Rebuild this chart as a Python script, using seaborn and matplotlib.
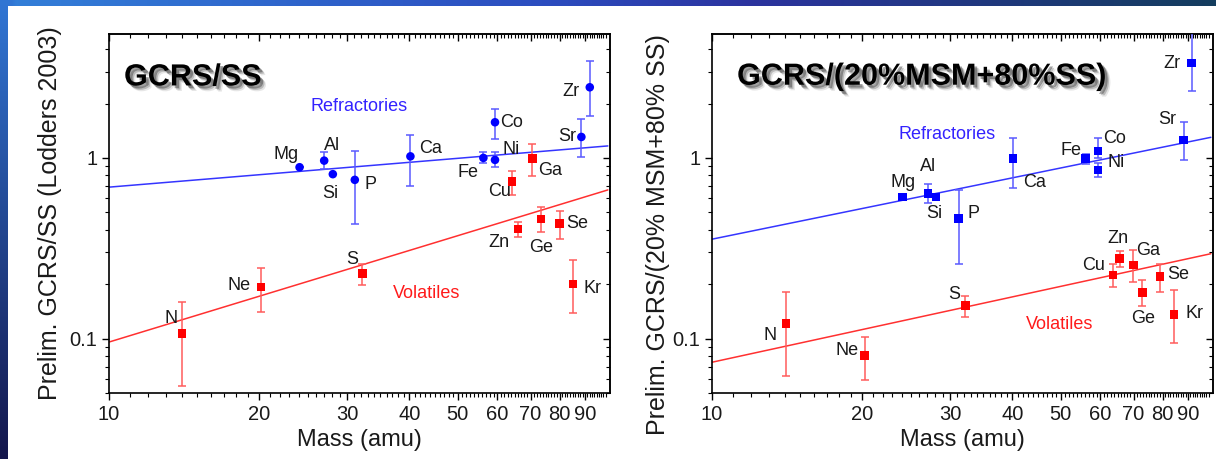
import numpy as np
import matplotlib
matplotlib.use("Agg")
import matplotlib.pyplot as plt
import matplotlib.patheffects as pe
from matplotlib.patches import Rectangle
from matplotlib.ticker import FixedLocator, FixedFormatter, NullFormatter
import seaborn as sns

# ---------------- data: GCRS / SS (Lodders 2003) ----------------
ss_refr_el = ["Mg", "Al", "Si", "P", "Ca", "Fe", "Ni", "Co", "Sr", "Zr"]
ss_refr_mass = [24.1, 27.0, 28.1, 31.1, 40.2, 56.3, 59.4, 59.4, 88.5, 92.0]
ss_refr_val = [0.888, 0.966, 0.813, 0.756, 1.02, 1.00, 0.975, 1.575, 1.306, 2.46]
ss_refr_lo = [0.888, 0.866, 0.813, 0.430, 0.703, 0.935, 0.895, 1.27, 1.017, 1.71]
ss_refr_hi = [0.888, 1.077, 0.813, 1.093, 1.34, 1.075, 1.075, 1.87, 1.65, 3.45]

ss_vol_el = ["N", "Ne", "S", "Cu", "Zn", "Ga", "Ge", "Se", "Kr"]
ss_vol_mass = [14.0, 20.15, 32.2, 64.3, 66.0, 70.6, 73.5, 80.1, 85.2]
ss_vol_val = [0.1065, 0.193, 0.229, 0.74, 0.404, 0.99, 0.46, 0.432, 0.20]
ss_vol_lo = [0.0546, 0.141, 0.198, 0.625, 0.363, 0.79, 0.387, 0.357, 0.138]
ss_vol_hi = [0.159, 0.245, 0.26, 0.85, 0.441, 1.195, 0.538, 0.51, 0.272]

# ---------------- data: GCRS / (20% MSM + 80% SS) ----------------
mix_refr_el = ["Mg", "Al", "Si", "P", "Ca", "Fe", "Co", "Ni", "Sr", "Zr"]
mix_refr_mass = [24.1, 27.1, 28.1, 31.2, 40.1, 56.1, 59.4, 59.4, 88.2, 91.5]
mix_refr_val = [0.606, 0.635, 0.606, 0.462, 0.99, 0.99, 1.093, 0.858, 1.257, 3.35]
mix_refr_lo = [0.606, 0.562, 0.606, 0.26, 0.683, 0.926, 1.0, 0.788, 0.975, 2.34]
mix_refr_hi = [0.606, 0.716, 0.606, 0.666, 1.295, 1.05, 1.295, 0.942, 1.58, 5.6]

mix_vol_el = ["N", "Ne", "S", "Cu", "Zn", "Ga", "Ge", "Se", "Kr"]
mix_vol_mass = [14.08, 20.24, 32.2, 63.6, 65.6, 69.9, 72.9, 79.1, 84.4]
mix_vol_val = [0.121, 0.0809, 0.152, 0.225, 0.277, 0.255, 0.18, 0.22, 0.136]
mix_vol_lo = [0.0617, 0.0592, 0.132, 0.192, 0.248, 0.205, 0.151, 0.182, 0.094]
mix_vol_hi = [0.18, 0.102, 0.173, 0.258, 0.306, 0.31, 0.212, 0.26, 0.186]

# power-law trend lines, given by their values at the two ends of the mass range
fit_mass = [10, 100]
ss_refr_fit = [0.689, 1.165]
ss_vol_fit = [0.0957, 0.665]
mix_refr_fit = [0.355, 1.30]
mix_vol_fit = [0.074, 0.295]

# axis ticks
x_ticks = [10, 20, 30, 40, 50, 60, 70, 80, 90]
x_tick_labels = ["10", "20", "30", "40", "50", "60", "70", "80", "90"]
y_ticks = [0.1, 1]
y_tick_labels = ["0.1", "1"]

# label placement relative to each point (pixels: right, up)
ss_label_off = {
    "Mg": (-14, 13), "Al": (8, 15), "Si": (-3, -19), "P": (16, -5), "Ca": (20, 8),
    "Fe": (-15, -15), "Ni": (16, 10), "Co": (17, 0), "Sr": (-14, 0), "Zr": (-19, -4),
    "N": (-11, 15), "Ne": (-22, 2), "S": (-10, 14), "Cu": (-13, -10), "Zn": (-19, -13),
    "Ga": (18, -12), "Ge": (0, -29), "Se": (17, 0), "Kr": (19, -4),
}
mix_label_off = {
    "Mg": (0, 15), "Al": (0, 27), "Si": (-2, -16), "P": (15, 5), "Ca": (22, -24),
    "Fe": (-15, 8), "Co": (17, 12), "Ni": (18, 7), "Sr": (-16, 20), "Zr": (-20, 0),
    "N": (-16, -12), "Ne": (-18, 5), "S": (-11, 11), "Cu": (-19, 9), "Zn": (-2, 20),
    "Ga": (15, 15), "Ge": (1, -26), "Se": (18, 2), "Kr": (20, 1),
}

BLUE, BLUE_ERR, BLUE_LINE = "#0000ff", "#5a5aff", "#3535ff"
RED, RED_ERR, RED_LINE = "#ff0000", "#ff5c5c", "#ff3030"
TXT = "#1a1a1a"

sns.set_theme(style="white")
plt.rcParams["font.family"] = ["Liberation Sans", "DejaVu Sans"]

W, H = 1216, 459
fig = plt.figure(figsize=(W / 100, H / 100), dpi=100)

# slide frame: gradient band along the top and left edges, white sheet on top
bg = fig.add_axes([0, 0, 1, 1], zorder=-10)
xs = np.linspace(0, 1, 256)
top_r = np.interp(xs, [0, 0.45, 0.62, 1], [0.20, 0.17, 0.17, 0.08])
top_g = np.interp(xs, [0, 0.45, 0.62, 1], [0.50, 0.30, 0.20, 0.24])
top_b = np.interp(xs, [0, 0.45, 0.62, 1], [0.85, 0.75, 0.62, 0.37])
img = np.dstack([np.tile(c, (64, 1)) for c in (top_r, top_g, top_b)])
ys = np.linspace(0, 1, 64)
img[:, :3, 0] = np.interp(ys, [0, 1], [0.08, 0.19])[:, None]
img[:, :3, 1] = np.interp(ys, [0, 1], [0.09, 0.46])[:, None]
img[:, :3, 2] = np.interp(ys, [0, 1], [0.30, 0.83])[:, None]
bg.imshow(img, extent=[0, W, 0, H], aspect="auto", origin="lower", interpolation="bilinear")
bg.add_patch(Rectangle((8, 0), W, H - 6, color="white", lw=0))
bg.set_xlim(0, W)
bg.set_ylim(0, H)
bg.axis("off")

ax_l = fig.add_axes([109 / W, 1 - 393 / H, 501 / W, 359 / H])
ax_r = fig.add_axes([712 / W, 1 - 393 / H, 501 / W, 359 / H])

x_minor = [v for v in range(11, 101) if v % 10 != 0]
y_minor = [0.05, 0.06, 0.07, 0.08, 0.09, 0.2, 0.3, 0.4, 0.5, 0.6, 0.7, 0.8, 0.9, 2, 3, 4, 5]

shadow_fx = [
    pe.SimplePatchShadow(offset=(4, -4), shadow_rgbFace="#777777", alpha=0.18),
    pe.SimplePatchShadow(offset=(3, -3), shadow_rgbFace="#555555", alpha=0.3),
    pe.SimplePatchShadow(offset=(2, -2), shadow_rgbFace="#333333", alpha=0.45),
    pe.Normal(),
]


def style_axes(ax):
    ax.set_xscale("log")
    ax.set_yscale("log")
    ax.set_xlim(10, 101)
    ax.set_ylim(0.05, 4.85)
    for axis, major, labels, minor in ((ax.xaxis, x_ticks, x_tick_labels, x_minor),
                                       (ax.yaxis, y_ticks, y_tick_labels, y_minor)):
        axis.set_major_locator(FixedLocator(major))
        axis.set_major_formatter(FixedFormatter(labels))
        axis.set_minor_locator(FixedLocator(minor))
        axis.set_minor_formatter(NullFormatter())
    ax.tick_params(which="both", direction="out", color="black", labelsize=14.5,
                   labelcolor=TXT, pad=3.5, top=False, right=False, bottom=True, left=True)
    ax.tick_params(which="major", length=5, width=1)
    ax.tick_params(which="minor", length=3, width=0.8)
    for s in ax.spines.values():
        s.set_color("black")
        s.set_linewidth(1.2)
    # inward ticks on the opposite sides
    top = ax.secondary_xaxis("top")
    top.xaxis.set_major_locator(FixedLocator(x_ticks))
    top.xaxis.set_minor_locator(FixedLocator(x_minor))
    top.xaxis.set_major_formatter(NullFormatter())
    top.xaxis.set_minor_formatter(NullFormatter())
    top.tick_params(which="both", direction="in", color="black")
    top.tick_params(which="major", length=5, width=1)
    top.tick_params(which="minor", length=3, width=0.8)
    top.spines["top"].set_linewidth(1.2)
    right = ax.secondary_yaxis("right")
    right.yaxis.set_major_locator(FixedLocator(y_ticks))
    right.yaxis.set_minor_locator(FixedLocator(y_minor))
    right.yaxis.set_major_formatter(NullFormatter())
    right.yaxis.set_minor_formatter(NullFormatter())
    right.tick_params(which="both", direction="in", color="black")
    right.tick_params(which="major", length=5, width=1)
    right.tick_params(which="minor", length=3, width=0.8)
    right.spines["right"].set_linewidth(1.2)


def draw_group(ax, el, mass, val, lo, hi, fit, marker, c, c_err, c_line, offsets):
    val_a = np.asarray(val)
    yerr = [val_a - np.asarray(lo), np.asarray(hi) - val_a]
    sns.lineplot(x=fit_mass, y=fit, color=c_line, lw=1.1, ax=ax, zorder=2)
    ax.errorbar(mass, val, yerr=yerr, fmt="none", ecolor=c_err, elinewidth=1.1,
                capsize=2.6, capthick=1.1, zorder=3)
    sns.scatterplot(x=mass, y=val, marker=marker, s=38, color=c, edgecolor="none",
                    linewidth=0, ax=ax, zorder=4)
    for name, m, v in zip(el, mass, val):
        dx, dy = offsets[name]
        ax.annotate(name, (m, v), xytext=(dx * 0.72, dy * 0.72), textcoords="offset points",
                    ha="center", va="center", fontsize=13, color=TXT, zorder=5)


style_axes(ax_l)
draw_group(ax_l, ss_refr_el, ss_refr_mass, ss_refr_val, ss_refr_lo, ss_refr_hi,
           ss_refr_fit, "o", BLUE, BLUE_ERR, BLUE_LINE, ss_label_off)
draw_group(ax_l, ss_vol_el, ss_vol_mass, ss_vol_val, ss_vol_lo, ss_vol_hi,
           ss_vol_fit, "s", RED, RED_ERR, RED_LINE, ss_label_off)
ax_l.text(0.499, 0.799, "Refractories", transform=ax_l.transAxes, ha="center", va="center",
          fontsize=13, color="#3322ff")
ax_l.text(0.633, 0.276, "Volatiles", transform=ax_l.transAxes, ha="center", va="center",
          fontsize=13, color="#ff1a1a")
ax_l.text(0.03, 0.879, "GCRS/SS", transform=ax_l.transAxes, ha="left", va="center",
          fontsize=22, fontweight="bold", color="black", path_effects=shadow_fx)
ax_l.set_xlabel("Mass (amu)", fontsize=17, color=TXT)
ax_l.set_ylabel("Prelim. GCRS/SS (Lodders 2003)", fontsize=18, color=TXT)
ax_l.xaxis.set_label_coords(0.5, -0.1)
ax_l.yaxis.set_label_coords(-0.094, 0.5)

style_axes(ax_r)
draw_group(ax_r, mix_refr_el, mix_refr_mass, mix_refr_val, mix_refr_lo, mix_refr_hi,
           mix_refr_fit, "s", BLUE, BLUE_ERR, BLUE_LINE, mix_label_off)
draw_group(ax_r, mix_vol_el, mix_vol_mass, mix_vol_val, mix_vol_lo, mix_vol_hi,
           mix_vol_fit, "s", RED, RED_ERR, RED_LINE, mix_label_off)
ax_r.text(0.470, 0.719, "Refractories", transform=ax_r.transAxes, ha="center", va="center",
          fontsize=13, color="#3322ff")
ax_r.text(0.693, 0.192, "Volatiles", transform=ax_r.transAxes, ha="center", va="center",
          fontsize=13, color="#ff1a1a")
ax_r.text(0.05, 0.881, "GCRS/(20%MSM+80%SS)", transform=ax_r.transAxes, ha="left",
          va="center", fontsize=22, fontweight="bold", color="black", path_effects=shadow_fx)
ax_r.set_xlabel("Mass (amu)", fontsize=17, color=TXT)
ax_r.set_ylabel("Prelim. GCRS/(20% MSM+80% SS)", fontsize=18, color=TXT)
ax_r.xaxis.set_label_coords(0.5, -0.1)
ax_r.yaxis.set_label_coords(-0.084, 0.44)

fig.savefig("out.png", dpi=100)
